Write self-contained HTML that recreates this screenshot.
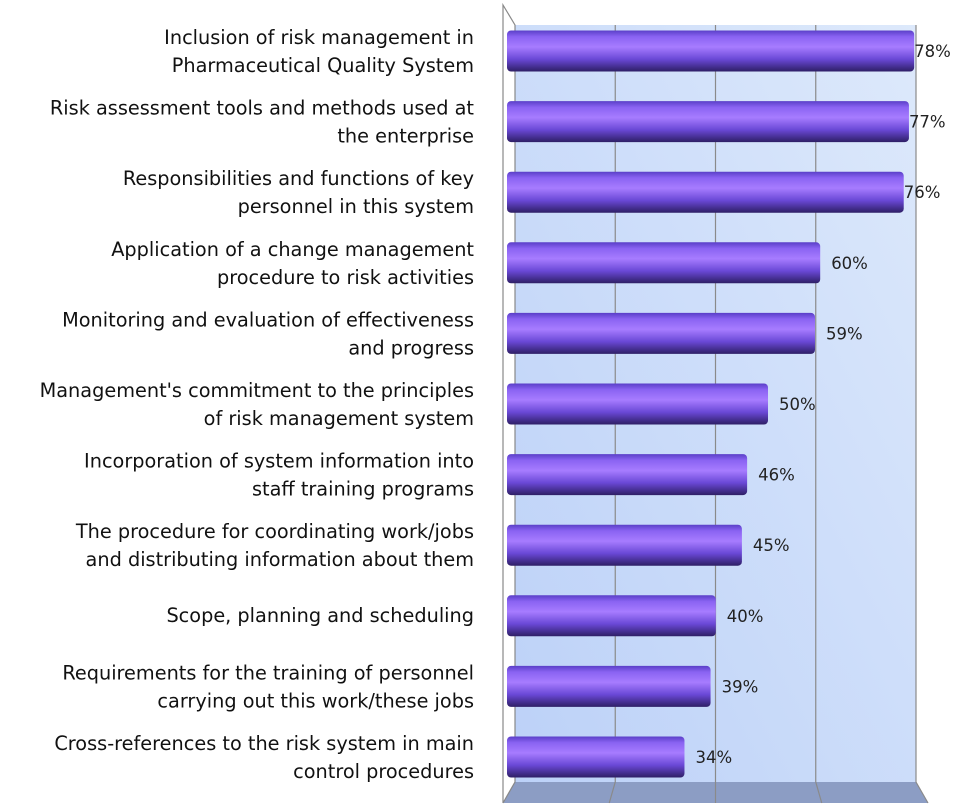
<!DOCTYPE html>
<html><head><meta charset="utf-8"><style>
body{margin:0;background:#fff;}
svg{display:block;font-family:"DejaVu Sans","Liberation Sans",sans-serif;}
</style></head><body>
<svg id="chart" width="964" height="810">
<defs>
<linearGradient id="wall" x1="0" y1="1" x2="1" y2="0"><stop offset="0" stop-color="#bcd1f8"/><stop offset="1" stop-color="#dde9fb"/></linearGradient>
<linearGradient id="bar" x1="0" y1="0" x2="0" y2="1">
<stop offset="0" stop-color="#5a3fc8"/><stop offset="0.15" stop-color="#8a63f2"/><stop offset="0.4" stop-color="#a77cff"/><stop offset="0.7" stop-color="#6a48d6"/><stop offset="1" stop-color="#2e1f66"/></linearGradient>
</defs>
<rect x="515" y="25" width="401" height="757" fill="url(#wall)"/>
<polygon points="503,803 515,782 916,782 928,803" fill="#8c9dc4"/>
<polyline points="503,803 503,5 515,25 515,782 503,803" fill="none" stroke="#888" stroke-width="1.2"/>
<g id="grid"></g>
<g id="bars"></g>
<g id="labels"></g>
</svg>
<script>
const categories=[["Inclusion of risk management in","Pharmaceutical Quality System"],["Risk assessment tools and methods used at","the enterprise"],["Responsibilities and functions of key","personnel in this system"],["Application of a change management","procedure to risk activities"],["Monitoring and evaluation of effectiveness","and progress"],["Management's commitment to the principles","of risk management system"],["Incorporation of system information into","staff training programs"],["The procedure for coordinating work/jobs","and distributing information about them"],["Scope, planning and scheduling"],["Requirements for the training of personnel","carrying out this work/these jobs"],["Cross-references to the risk system in main","control procedures"]];
const values=[78,77,76,60,59,50,46,45,40,39,34];
const gridTicks=[0,20,40,60,80];
const NS="http://www.w3.org/2000/svg";
function el(t,a,p){const e=document.createElementNS(NS,t);for(const k in a)e.setAttribute(k,a[k]);p.appendChild(e);return e;}
const xBar=v=>507+v*5.22;
const xBack=v=>515+v*5.0125;
const xFront=v=>503+v*5.3125;
const yC=i=>51+i*70.6;
const grid=document.getElementById('grid'),bars=document.getElementById('bars'),labels=document.getElementById('labels');
gridTicks.forEach((t,i)=>{
 if(t===0)return;
 const l=el('polyline',{points:`${xBack(t)},25 ${xBack(t)},782 ${xFront(t)},803`,fill:'none',stroke:'#8a8a8a','stroke-width':1.2},grid);
 
 
});
values.forEach((v,i)=>{
 const y=yC(i),h=41,x0=507,x1=xBar(v);
 const r=el('rect',{x:x0,y:y-h/2,width:x1-x0,height:h,rx:4,ry:4,fill:'url(#bar)'},bars);
 
 
 const t=el('text',{x:x1+(v>70?0:11),y:y+6,'font-size':16.5,fill:'#222'},labels);
 t.textContent=v+'%';
 
 
 const lines=categories[i];
 const c=el('text',{x:474,'text-anchor':'end','font-size':19.3,fill:'#111'},labels);
 
 
 lines.forEach((s,j)=>{
  const ts=el('tspan',{x:474,y:lines.length===1?y+6:y-7+j*28},c);ts.textContent=s;
 });
});
</script>
</body></html>
